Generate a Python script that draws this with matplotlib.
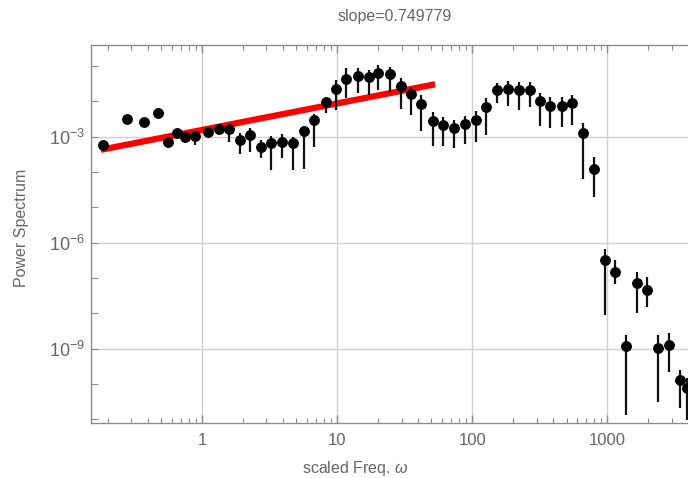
import numpy as np
import matplotlib
matplotlib.use("Agg")
import matplotlib.pyplot as plt
from matplotlib.ticker import FixedLocator, NullFormatter, FixedFormatter

# ---- data ----
freq = [0.186, 0.278, 0.37, 0.472, 0.56, 0.653, 0.753, 0.89, 1.10, 1.33,
        1.58, 1.9, 2.25, 2.74, 3.26, 3.89, 4.75, 5.7, 6.8, 8.25,
        9.84, 11.7, 14.2, 17.2, 20.2, 24.8, 29.6, 35.3, 42.1, 51.4,
        61.3, 73.1, 88.7, 106, 127, 153, 184, 222, 269, 319,
        380, 462, 551, 664, 801, 961, 1146, 1384, 1658, 1977,
        2372, 2878, 3433, 3893]
power = [5.8e-4, 3.2e-3, 2.6e-3, 4.7e-3, 7.1e-4, 1.26e-3, 1.0e-3, 1.05e-3, 1.38e-3, 1.65e-3,
         1.65e-3, 8.1e-4, 1.1e-3, 5.1e-4, 6.6e-4, 7.2e-4, 6.6e-4, 1.42e-3, 2.97e-3, 9.4e-3,
         2.24e-2, 4.4e-2, 5.4e-2, 4.9e-2, 6.3e-2, 5.9e-2, 2.75e-2, 1.59e-2, 8.5e-3, 2.8e-3,
         2.1e-3, 1.8e-3, 2.34e-3, 2.97e-3, 7.1e-3, 2.1e-2, 2.24e-2, 2.1e-2, 2.1e-2, 1.0e-2,
         7.6e-3, 7.6e-3, 9.2e-3, 1.27e-3, 1.2e-4, 3.2e-7, 1.43e-7, 1.16e-9, 7.2e-8, 4.7e-8,
         1.05e-9, 1.3e-9, 1.26e-10, 7.6e-11]
power_lo = [5.8e-4, 3.2e-3, 2.6e-3, 4.7e-3, 7.1e-4, 1.26e-3, 1.0e-3, 5.8e-4, 1.38e-3, 1.65e-3,
            7.2e-4, 3.2e-4, 3.8e-4, 2.5e-4, 1.14e-4, 2.5e-4, 1.14e-4, 1.2e-4, 5.0e-4, 4.6e-3,
            5.7e-3, 1.23e-2, 1.78e-2, 1.5e-2, 2.1e-2, 1.9e-2, 6.0e-3, 4.2e-3, 1.45e-3, 5.5e-4,
            5.5e-4, 4.7e-4, 6.1e-4, 7.2e-4, 1.1e-3, 8.9e-3, 7.4e-3, 5.7e-3, 6.8e-3, 2.0e-3,
            1.8e-3, 1.9e-3, 2.1e-3, 6.2e-5, 2.0e-5, 8.8e-9, 6.9e-8, 1.3e-11, 1.02e-8, 1.5e-8,
            3.1e-11, 2.2e-10, 2.0e-11, 9.3e-12]
power_hi = [5.8e-4, 3.2e-3, 2.6e-3, 4.7e-3, 7.1e-4, 1.26e-3, 1.0e-3, 1.38e-3, 1.38e-3, 1.65e-3,
            2.1e-3, 1.25e-3, 1.73e-3, 8.1e-4, 1.05e-3, 1.17e-3, 1.0e-3, 2.0e-3, 4.4e-3, 1.23e-2,
            4.06e-2, 8.7e-2, 8.7e-2, 7.8e-2, 1.07e-1, 9.7e-2, 4.6e-2, 2.6e-2, 1.5e-2, 5.1e-3,
            3.55e-3, 2.97e-3, 3.9e-3, 5.5e-3, 1.23e-2, 3.4e-2, 3.9e-2, 3.6e-2, 3.6e-2, 1.7e-2,
            1.36e-2, 1.36e-2, 1.5e-2, 2.5e-3, 2.7e-4, 6.5e-7, 3.3e-7, 2.4e-9, 1.48e-7, 1.07e-7,
            2.4e-9, 2.7e-9, 2.4e-10, 1.45e-10]

slope = 0.749779
fit_amp = 1.56e-3
fit_range = [0.178, 53.2]

x_ticks = [1, 10, 100, 1000]
x_ticklabels = ["1", "10", "100", "1000"]
y_ticks = [1e-9, 1e-6, 1e-3]
y_ticklabels = [r"$10^{-9}$", r"$10^{-6}$", r"$10^{-3}$"]

title_text = "slope=0.749779"
xlabel_text = r"scaled Freq. $\omega$"
ylabel_text = "Power Spectrum"

# ---- style ----
plt.rcParams["font.family"] = ["Liberation Sans", "DejaVu Sans"]
plt.rcParams["mathtext.fontset"] = "custom"
plt.rcParams["mathtext.rm"] = "Liberation Sans"
plt.rcParams["mathtext.it"] = "Liberation Sans:italic"
TXT = "#666666"
FRAME = "#8c8c8c"

W, H = 688, 478
fig = plt.figure(figsize=(W / 100, H / 100), dpi=100)
left_px, right_px, top_px, bot_px = 91, 702, 45, 423
ax = fig.add_axes([left_px / W, 1 - bot_px / H, (right_px - left_px) / W, (bot_px - top_px) / H])

ax.set_xscale("log")
ax.set_yscale("log")
ax.set_xlim(0.1506, 10 ** 3.702)
ax.set_ylim(10 ** -11.11, 10 ** -0.40)

ax.grid(False)
for v in x_ticks:
    ax.axvline(v, color="#d0d0d0", lw=1.0, zorder=0)
for v in y_ticks:
    ax.axhline(v, color="#d0d0d0", lw=1.0, zorder=0)

# fit line
fx = np.array(fit_range)
ax.plot(fx, fit_amp * fx ** slope, color="#ff0000", lw=4.5, solid_capstyle="butt", zorder=2)

p = np.array(power)
lo = np.array(power_lo)
hi = np.array(power_hi)
ax.errorbar(freq, p, yerr=[p - lo, hi - p], fmt="o", color="black", ms=6.8,
            ecolor="#111111", elinewidth=1.6, capsize=0, zorder=3)

# ticks
ax.xaxis.set_major_locator(FixedLocator(x_ticks))
ax.xaxis.set_major_formatter(FixedFormatter(x_ticklabels))
minors_x = [m * 10.0 ** e for e in range(-1, 4) for m in range(2, 10)]
ax.xaxis.set_minor_locator(FixedLocator(minors_x))
ax.xaxis.set_minor_formatter(NullFormatter())
ax.yaxis.set_major_locator(FixedLocator(y_ticks))
ax.yaxis.set_major_formatter(FixedFormatter(y_ticklabels))
ax.yaxis.set_minor_locator(FixedLocator([10.0 ** e for e in range(-11, 0)]))
ax.yaxis.set_minor_formatter(NullFormatter())

ax.tick_params(axis="both", which="both", direction="in", color=FRAME, labelcolor=TXT,
               top=True, right=False)
ax.tick_params(axis="x", which="major", length=6, width=1, labelsize=12, pad=7)
ax.tick_params(axis="x", which="minor", length=3.5, width=0.8)
ax.tick_params(axis="y", which="both", length=5, width=0.8)
ax.tick_params(axis="y", which="major", labelsize=13, pad=4)

for s in ["left", "bottom", "top"]:
    ax.spines[s].set_color(FRAME)
    ax.spines[s].set_linewidth(1.0)
ax.spines["right"].set_visible(False)

fig.text(355.5 / W, 1 - 468 / H, xlabel_text, color=TXT, fontsize=11.5, ha="center", va="center")
fig.text(22 / W, 1 - 228 / H, ylabel_text, color=TXT, fontsize=11.5, ha="center", va="center",
         rotation=90)
fig.text(395 / W, 1 - 17 / H, title_text, color=TXT, fontsize=11.5, ha="center", va="center")

fig.savefig("out.png", dpi=100)
